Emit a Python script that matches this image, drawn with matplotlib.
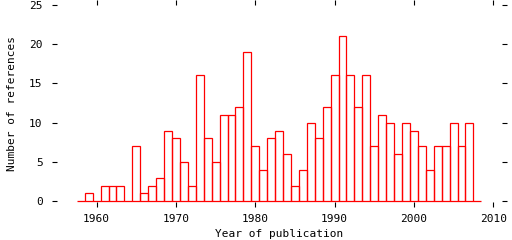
import matplotlib
matplotlib.use("Agg")
import matplotlib.pyplot as plt

# ----------------------- Data -----------------------
years = list(range(1958, 2009))
counts = [0, 1, 0, 2, 2, 2, 0, 7, 1, 2,
          3, 9, 8, 5, 2, 16, 8, 5, 11, 11,
          12, 19, 7, 4, 8, 9, 6, 2, 4, 10,
          8, 12, 16, 21, 16, 12, 16, 7, 11, 10,
          6, 10, 9, 7, 4, 7, 7, 10, 7, 10,
          0]
x_ticks = [1960, 1970, 1980, 1990, 2000, 2010]
y_ticks = [0, 5, 10, 15, 20, 25]

# ----------------------- Plot -----------------------
plt.rcParams["font.family"] = ["DejaVu Sans Mono"]
plt.rcParams["font.size"] = 8

fig = plt.figure(figsize=(5.12, 2.4), dpi=100)
ax = fig.add_axes([51.7 / 512, 33.3 / 240, 455 / 512, 206.7 / 240])

ax.bar(years, counts, width=1.0, fill=False, edgecolor="#ff0000", linewidth=0.9)

ax.set_xlim(1954.33, 2011.7)
ax.set_ylim(-0.69, 25.6)
ax.set_xticks(x_ticks)
ax.set_yticks(y_ticks)
for s in ax.spines.values():
    s.set_visible(False)
ax.tick_params(direction="in", top=True, right=True, length=3.6, width=0.8,
               colors="black", labelsize=8)
ax.tick_params(axis="y", pad=6.5)
ax.tick_params(axis="x", pad=5)

ax.set_xlabel("Year of publication", labelpad=4)
ax.set_ylabel("Number of references", labelpad=9)

fig.savefig("out.png", dpi=100)
